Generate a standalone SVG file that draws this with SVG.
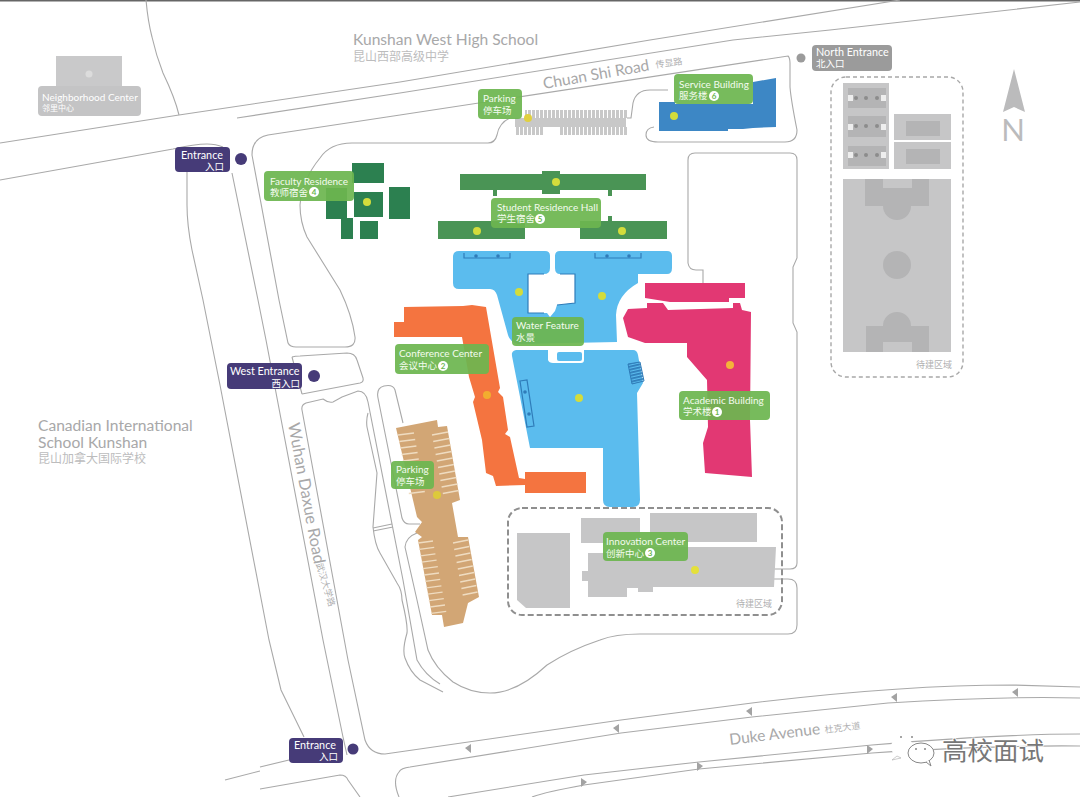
<svg xmlns="http://www.w3.org/2000/svg" width="1080" height="797" viewBox="0 0 1080 797">
<style>
text{font-family:"Lato","Noto Sans CJK SC",sans-serif}
.road{fill:none;stroke:#a9a9a9;stroke-width:1.1}
.lb{fill:#6db650;fill-opacity:.93}
.t{fill:#f4fbef;font-size:10px}
.c{fill:#f4fbef;font-size:9.5px}
.w{fill:#fff;font-size:10.8px}
.wc{fill:#fff;font-size:9.5px;text-anchor:end}
.en{fill:#463b78}
.g{fill:#a8a8a9;font-size:15.6px}
.gc{fill:#bcbcbd;font-size:12px}
.gs{fill:#b0b0b1;font-size:9px}
.d{fill:#d3dc3c}
.gy{fill:#c6c6c7}
.gd{fill:#b4b4b5}
.blue{fill:#5bbcee}
.db{fill:none;stroke:#2f7cb9;stroke-width:1.2}
.sg{fill:#4a9455}
.fg{fill:#2c8050}
.ar{fill:#a3a3a3}
.n{font-size:8px;font-weight:700;fill:#6db650;text-anchor:middle}
</style>
<defs>
<pattern id="stall" width="4" height="4" patternUnits="userSpaceOnUse"><rect width="3" height="4" fill="#c8c8c8"/></pattern>
<pattern id="hatch" width="3" height="3" patternUnits="userSpaceOnUse" patternTransform="rotate(-13)"><rect width="3" height="1.8" fill="#2f7cb9"/></pattern>
</defs>
<rect width="1080" height="797" fill="#fff"/>
<rect width="1080" height="1.5" fill="#666"/>

<g id="connectors">
<path class="road" d="M0,143 L179,115 L400,82 L650,40 L900,0"/>
<path class="road" d="M237,118 L400,93 L733,40 L830,30 L1080,2"/>
<path class="road" d="M146,0 Q148,22 152,37 Q156,55 163,73 Q175,98 179,115"/>
<path class="road" d="M0,180 L173,149 Q195,144 207,144 Q216,144 223,147"/>
<path class="road" d="M187,172 L187,205 Q187,225 192,250 L203,300 L220,385 L269,640 L281,690 L304,737"/>
<path class="road" d="M232,173 L258,300 L266,340 L323,640 L343,737 L347,755"/>
<path class="road" d="M400,115 L788,56 Q790,58 790,63 L790,87 Q791,100 797,130 Q797,142 785,142 L658,142 Q646,142 646,135 Q646,128 654,127"/>
<path class="road" d="M400,115 L268,135 Q252,138 252,155 L279,300 L288,343 Q290,347 296,347 L345,347 Q356,347 355,337 Q352,315 340,290 L307,237 Q300,222 300,205 Q302,180 320,158 Q330,143 352,143 L488,143 Q495,143 497,135 Q499,123 510,118"/>
<path class="road" d="M627,118 L631,118 L633,103 Q636,90 650,90 L668,90"/>
<path class="road" d="M688,160 Q688,153 695,153 L790,153 Q797,153 797,160 L797,258 L793,267 L793,323 L797,332 L797,563 Q797,569 790,569 L773,569"/>
<path class="road" d="M688,160 L688,263 Q689,270 696,270 L703,270 L703,283"/>
<path class="road" d="M773,579 L788,579 Q797,579 797,588 L797,625 Q797,634 788,634 L640,634 Q615,634 600,640 Q570,650 547,665 Q517,693 490,693 Q470,693 453,682 Q435,668 428,650 L417,600 L405,547 Q406,537 417,533"/>
<path class="road" d="M420,524 L409,524 Q404,524 402,518 L378,398 Q376,388 384,386 Q393,384 395,390 L403,423"/>
<path class="road" d="M292,357 Q295,356 300,356 L347,353 Q355,353 357,360 L363,378 Q364,382 360,383 L302,394"/>
<path class="road" d="M292,357 L302,394"/>
<path class="road" d="M302,410 Q301,405 306,403 L323,399 Q328,403 333,402 L342,397 L358,391 Q366,391 368,402 L403,580 L417,660 Q425,675 440,684"/>
<path class="road" d="M368,413 Q366,420 367,427 L377,473 Q375,500 373,527 Q375,545 380,553 L397,583 Q402,590 402,600 Q408,625 407,633 Q402,650 405,658 Q410,672 420,680 L443,692"/>
<path class="road" d="M373,528 L392,524 M373,531 L393,527"/>
<path class="road" d="M302,410 L348,660 L365,740 Q370,754 385,754 L621,720 L752,703 Q900,685 1013,685 L1080,687"/>
<path class="road" d="M399,797 Q392,780 399,772 Q401,768 410,767 L621,733 L752,717 L888,703 Q1000,696 1080,698"/>
<path class="road" d="M448,797 L584,775 L699,762 L872,745 Q1000,734 1080,734"/>
<path class="road" d="M532,797 Q545,792 584,785 L699,769 L872,753 Q1000,745 1080,746"/>
<path class="road" d="M260,767 L289,760 M225,780 L260,771 M260,789 L340,775 Q346,775 348,780 L360,797"/>
<path class="ar" d="M465,748 L471,744 L471,753Z M613,728 L619,724 L619,733Z M746,711 L752,707 L752,716Z M891,697 L897,693 L897,702Z M1012,692 L1018,688 L1018,697Z M587,782 L581,778 L581,787Z M703,766 L697,762 L697,771Z M873,749 L867,745 L867,754Z"/>
</g>

<g id="labels-map">
<text class="g" x="353" y="45">Kunshan West High School</text>
<text class="gc" x="353" y="61">昆山西部高级中学</text>
<text class="g" transform="translate(544,89) rotate(-10)">Chuan Shi Road</text>
<text class="gs" transform="translate(656,68) rotate(-8)">传显路</text>
<text class="g" x="38" y="431">Canadian International</text>
<text class="g" x="38" y="448">School Kunshan</text>
<text class="gc" x="38" y="463">昆山加拿大国际学校</text>
<text class="g" transform="translate(288,424) rotate(79.5)" style="font-size:16.4px">Wuhan Daxue Road</text>
<text class="gs" transform="translate(316,564) rotate(73)">武汉大学路</text>
<text class="g" transform="translate(730,745) rotate(-7)">Duke Avenue</text>
<text class="gs" transform="translate(825,733) rotate(-7)">杜克大道</text>
</g>

<g id="neighborhood-center">
<rect x="56" y="56" width="66" height="34" fill="#c9c9ca"/>
<circle cx="89" cy="74" r="3.5" fill="#dcdcdc"/>
<rect x="38" y="86" width="103" height="30" rx="4" fill="#c4c4c5"/>
<text x="42" y="101" fill="#fff" font-size="10">Neighborhood Center</text>
<text x="42" y="111" fill="#fff" font-size="8">邻里中心</text>
</g>

<g id="entrance-north-west">
<rect class="en" x="175" y="147" width="55" height="25" rx="4"/>
<text class="w" x="181" y="159">Entrance</text>
<text class="wc" x="224" y="170">入口</text>
<circle class="en" cx="241" cy="159" r="6"/>
</g>
<g id="west-entrance">
<rect class="en" x="227" y="363" width="75" height="26" rx="4"/>
<text class="w" x="230" y="375">West Entrance</text>
<text class="wc" x="300" y="387">西入口</text>
<circle class="en" cx="314" cy="376" r="6"/>
</g>
<g id="entrance-south">
<rect class="en" x="289" y="738" width="54" height="25" rx="4"/>
<text class="w" x="294" y="749">Entrance</text>
<text class="wc" x="338" y="760">入口</text>
<circle class="en" cx="353" cy="749" r="5.5"/>
</g>
<g id="north-entrance">
<rect x="812" y="45" width="80" height="26" rx="4" fill="#9b9b9b"/>
<text class="w" x="816" y="56">North Entrance</text>
<text x="816" y="67" fill="#fff" font-size="9.5">北入口</text>
<circle cx="801" cy="58" r="4.5" fill="#9b9b9b"/>
</g>

<g id="future-sports-zone">
<rect x="831" y="77" width="132" height="300" rx="15" fill="none" stroke="#a8a8a8" stroke-width="1.4" stroke-dasharray="4 3"/>
<rect class="gy" x="843" y="83" width="46" height="86"/>
<rect class="gd" x="848" y="88" width="38" height="20"/>
<rect class="gd" x="848" y="116" width="38" height="21"/>
<rect class="gd" x="848" y="146" width="38" height="20"/>
<path fill="#eee" d="M848,95h5v6h-5z M881,95h5v6h-5z M848,124h5v6h-5z M881,124h5v6h-5z M848,152h5v6h-5z M881,152h5v6h-5z"/>
<g fill="#8c8c8c"><circle cx="856" cy="98" r="2"/><circle cx="866" cy="98" r="2"/><circle cx="877" cy="98" r="2"/><circle cx="856" cy="126" r="2"/><circle cx="866" cy="126" r="2"/><circle cx="877" cy="126" r="2"/><circle cx="856" cy="155" r="2"/><circle cx="866" cy="155" r="2"/><circle cx="877" cy="155" r="2"/></g>
<rect class="gy" x="894" y="114" width="57" height="26"/>
<rect class="gy" x="894" y="142" width="57" height="27"/>
<rect class="gd" x="906" y="121" width="34" height="15"/>
<rect class="gd" x="906" y="149" width="34" height="15"/>
<rect class="gy" x="843" y="179" width="108" height="173"/>
<path class="gd" d="M865,179H929V206H911A14,14 0 0 1 883,206H865Z"/>
<rect class="gy" x="883" y="179" width="29" height="9"/>
<circle class="gd" cx="897" cy="265" r="14"/>
<path class="gd" d="M866,352H929V326H911A14,14 0 0 0 883,326H866Z"/>
<rect class="gy" x="883" y="342" width="29" height="10"/>
<text class="gs" x="916" y="368">待建区域</text>
</g>

<g id="north-arrow">
<path d="M1014,69 L1025,112 L1014,107 L1003,112Z" fill="#bbbbbc"/>
<text x="1013" y="141" text-anchor="middle" font-size="31" fill="#bbbbbc">N</text>
</g>

<g id="parking-north">
<path fill="url(#stall)" d="M525,110H627V118H525Z M515,127H543V135H515Z M559,127H627V135H559Z"/>
<rect x="515" y="118" width="111" height="9" fill="#c8c8c8"/>
<circle cx="528" cy="118" r="4" fill="#e0d040"/>
<rect class="lb" x="478" y="89" width="44" height="30" rx="4"/>
<text class="t" x="483" y="102">Parking</text>
<text class="c" x="483" y="114">停车场</text>
</g>

<g id="service-building">
<path fill="#3d87c5" d="M659,102H675V104H753V82L776,78V127L753,128L743,129H728V131H659Z"/>
<circle class="d" cx="674" cy="116" r="4"/>
<rect class="lb" x="674" y="74" width="79" height="30" rx="4"/>
<text class="t" x="679" y="88">Service Building</text>
<text class="c" x="679" y="99">服务楼</text>
<circle cx="714" cy="96" r="5" fill="#fff"/><text class="n" x="714" y="99">6</text>
</g>

<g id="faculty-residence">
<g class="fg"><rect x="352" y="163" width="32" height="20"/><rect x="326" y="188" width="21" height="31"/><rect x="354" y="192" width="29" height="25"/><rect x="389" y="187" width="21" height="32"/><rect x="341" y="218" width="12" height="21"/><rect x="360" y="221" width="18" height="18"/></g>
<circle class="d" cx="367" cy="202" r="4"/>
<rect class="lb" x="264" y="171" width="90" height="30" rx="4"/>
<text class="t" x="270" y="185">Faculty Residence</text>
<text class="c" x="270" y="196">教师宿舍</text>
<circle cx="314" cy="192" r="5" fill="#fff"/><text class="n" x="314" y="195">4</text>
</g>

<g id="student-residence">
<path class="sg" d="M460,174H542V171H560V174H646V190H612V196H608V190H560V194H542V190H497V196H493V190H460Z"/>
<path class="sg" d="M438,221H525V239H438Z M580,221H608V216H612V221H667V239H580Z"/>
<circle class="d" cx="556" cy="182" r="4"/><circle class="d" cx="477" cy="231" r="4"/><circle class="d" cx="622" cy="231" r="4"/>
<rect class="lb" x="491" y="198" width="110" height="30" rx="4"/>
<text class="t" x="497" y="211">Student Residence Hall</text>
<text class="c" x="497" y="222">学生宿舍</text>
<circle cx="540" cy="219" r="5" fill="#fff"/><text class="n" x="540" y="222">5</text>
</g>

<g id="water-feature">
<path class="blue" d="M459,251L545,251Q550,251 550,256L550,268Q550,274 544,274L528,274L528,313L547,313L550,317L555,311L557,305L575,303L575,274L560,274Q555,274 555,268L555,256Q555,251 560,251L667,251Q672,251 672,256L672,268Q672,274 667,274L638,274L638,283Q617,295 616,315L617,342L518,344Q510,342 508,335L497,295Q495,289 490,289L459,289Q453,289 453,283L453,257Q453,251 459,251Z"/>
<path class="blue" d="M516,350H548V360Q549,363 553,363H581Q584,363 584,360V350H633Q637,350 638,355L643,383L637,393L640,500Q640,507 633,507H610Q603,507 603,500V448H530L512,356Q511,351 516,350Z"/>
<rect class="blue" x="557" y="352" width="25" height="9" rx="2"/>
<path class="db" d="M544,274H528V313H544 M560,274H575V303L557,305"/>
<path class="db" d="M464,253V258H510V253 M595,253V258H641V253"/>
<g fill="#2f7cb9"><circle cx="476" cy="256" r="1.8"/><circle cx="498" cy="256" r="1.8"/><circle cx="607" cy="256" r="1.8"/><circle cx="629" cy="256" r="1.8"/><circle cx="525" cy="392" r="1.8"/><circle cx="529" cy="414" r="1.8"/></g>
<path class="db" d="M520,381L527,380L534,426L527,427Z"/>
<path fill="url(#hatch)" stroke="#2f7cb9" d="M628,364L640,362L644,381L632,384Z"/>
<circle class="d" cx="519" cy="292" r="4"/><circle class="d" cx="602" cy="296" r="4"/><circle class="d" cx="579" cy="398" r="4"/>
<rect class="lb" x="512" y="317" width="72" height="29" rx="4"/>
<text class="t" x="516" y="329">Water Feature</text>
<text class="c" x="516" y="341">水景</text>
</g>

<g id="conference-center">
<path fill="#f47440" d="M404,307L463,306L472,305L486,307L500,388L498,392L503,397L508,430L505,434L510,437L519,478L525,479V472H586V493H525V485L496,486L493,476L486,473L482,440L473,402L475,397L469,377L462,337H394V322H404Z"/>
<circle cx="487" cy="395" r="4" fill="#f2ad2f"/>
<rect class="lb" x="395" y="344" width="94" height="30" rx="4"/>
<text class="t" x="399" y="357">Conference Center</text>
<text class="c" x="399" y="369">会议中心</text>
<circle cx="443" cy="366" r="5" fill="#fff"/><text class="n" x="443" y="369">2</text>
</g>

<g id="academic-building">
<path fill="#e23873" d="M645,283H745V298H729V302H670L645,298Z"/>
<path fill="#e23873" d="M623,318L628,309L647,308V303H663L668,310L733,308V303H740L742,310L751,312L750,420L752,477L705,473L703,443L708,427L707,380L687,357V343H645L628,337Z"/>
<circle cx="730" cy="365" r="4" fill="#f4b33a"/>
<rect class="lb" x="679" y="391" width="91" height="29" rx="4"/>
<text class="t" x="683" y="404">Academic Building</text>
<text class="c" x="683" y="415">学术楼</text>
<circle cx="717" cy="412" r="5" fill="#fff"/><text class="n" x="717" y="415">1</text>
</g>

<g id="parking-west">
<path fill="#d2a675" d="M396,428L437,420L438,427L447,426L460,500L452,503L458,537L468,537L479,597L468,603L463,623L444,627L442,615L432,615L418,540L422,537L415,532L422,522L417,517Z"/>
<path fill="none" stroke="#efdcc1" stroke-width="1.3" d="M398,435l16,-2m-14.8,8.5l16,-2m-14.8,8.5l16,-2m-14.8,8.5l16,-2m-14.8,8.5l16,-2m-14.8,8.5l16,-2m-14.8,8.5l16,-2m-14.8,8.5l16,-2m-14.8,8.5l16,-2m-14.8,8.5l16,-2 M432,435l16,-3m-14.8,9.5l16,-3m-14.8,9.5l16,-3m-14.8,9.5l16,-3m-14.8,9.5l16,-3m-14.8,9.5l16,-3m-14.8,9.5l16,-3m-14.8,9.5l16,-3m-14.8,9.5l16,-3m-14.8,9.5l16,-3 M418,543l15,-2m-13.8,8.4l15,-2m-13.8,8.4l15,-2m-13.8,8.4l15,-2m-13.8,8.4l15,-2m-13.8,8.4l15,-2m-13.8,8.4l15,-2m-13.8,8.4l15,-2m-13.8,8.4l15,-2m-13.8,8.4l15,-2m-13.8,8.4l15,-2m-13.8,8.4l15,-2 M453,543l15,-3m-13.8,9.5l15,-3m-13.8,9.5l15,-3m-13.8,9.5l15,-3m-13.8,9.5l15,-3m-13.8,9.5l15,-3m-13.8,9.5l15,-3m-13.8,9.5l15,-3m-13.8,9.5l15,-3"/>
<circle cx="437" cy="495" r="4" fill="#ddc93b"/>
<rect class="lb" x="391" y="461" width="43" height="28" rx="4"/>
<text class="t" x="396" y="473">Parking</text>
<text class="c" x="396" y="485">停车场</text>
</g>

<g id="innovation-center">
<rect x="508" y="508" width="274" height="107" rx="14" fill="none" stroke="#8f8f8f" stroke-width="2" stroke-dasharray="6 3"/>
<path class="gy" d="M517,533H570V608H526L517,600Z"/>
<rect class="gy" x="581" y="518" width="59" height="25"/>
<rect class="gy" x="650" y="513" width="107" height="29"/>
<path class="gy" d="M588,553H640V547H776L774,587H653V592H638V588H627V597H588V581H582V571H588Z"/>
<circle cx="695" cy="570" r="4" fill="#e4e03a"/>
<text class="gs" x="736" y="607">待建区域</text>
<rect class="lb" x="603" y="532" width="85" height="29" rx="4"/>
<text class="t" x="606" y="545">Innovation Center</text>
<text class="c" x="606" y="557">创新中心</text>
<circle cx="650" cy="553" r="5" fill="#fff"/><text class="n" x="650" y="556">3</text>
</g>

<g id="watermark">
<ellipse cx="902" cy="747" rx="11" ry="10" fill="#fff"/>
<path d="M897,756L892,760L901,758Z" fill="#fff" stroke="#aaa" stroke-width=".6"/>
<ellipse cx="921" cy="753" rx="13" ry="10" fill="#fff" stroke="#888" stroke-width="1"/>
<path d="M926,762L931,766L929,760" fill="#fff" stroke="#888"/>
<g fill="#888"><circle cx="901" cy="737" r="1"/><circle cx="912" cy="737" r="1"/><circle cx="916" cy="749" r="1"/><circle cx="925" cy="749" r="1"/></g>
<text x="942" y="760" font-size="25.5" fill="#fff" stroke="#fff" stroke-width="1.5">高校面试</text>
<text x="942" y="760" font-size="25.5" fill="#777">高校面试</text>
</g>
</svg>
